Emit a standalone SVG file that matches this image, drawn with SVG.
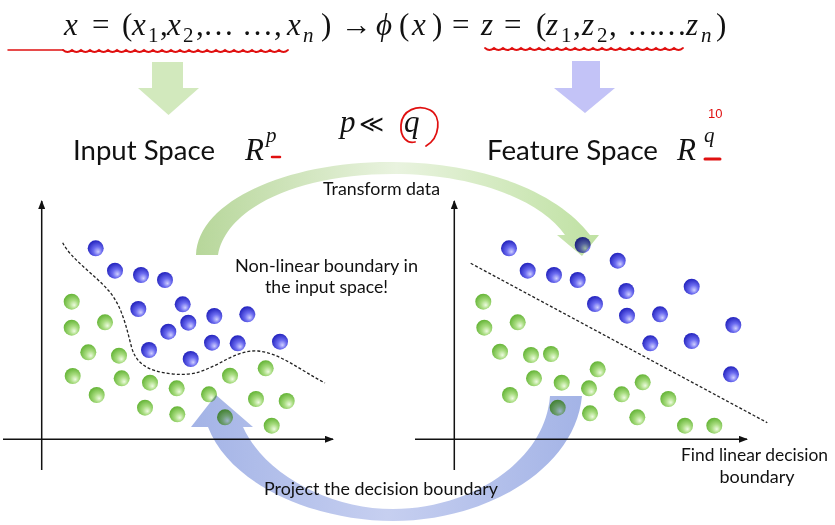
<svg xmlns="http://www.w3.org/2000/svg" width="835" height="525" viewBox="0 0 835 525">
<defs>
<style>
.m{font-family:"Liberation Serif","DejaVu Serif",serif;font-size:31px;fill:#111}
.mi{font-family:"Liberation Serif","DejaVu Serif",serif;font-size:31px;font-style:italic;fill:#111}
.sb{font-family:"Liberation Serif","DejaVu Serif",serif;font-size:21px;fill:#111}
.sbi{font-family:"Liberation Serif","DejaVu Serif",serif;font-size:21px;font-style:italic;fill:#111}
.h{font-family:Lato,"Open Sans",sans-serif;font-size:27px;fill:#111}
.t{font-family:Lato,"Open Sans",sans-serif;font-size:18px;fill:#111}
.ax{stroke:#111;stroke-width:1.5;fill:none}
.dash{stroke:#222;stroke-width:1.3;fill:none;stroke-dasharray:3 2}
.red{stroke:#e01010;fill:none;stroke-linecap:round}
.b{fill:url(#gb)}
.g{fill:url(#gg)}
.mul{mix-blend-mode:multiply}
</style>
<radialGradient id="gb" cx="0.58" cy="0.62" r="0.6" fx="0.66" fy="0.72">
<stop offset="0" stop-color="#d0d0ff"/>
<stop offset="0.45" stop-color="#6c6cf0"/>
<stop offset="1" stop-color="#2626c0"/>
</radialGradient>
<radialGradient id="gg" cx="0.58" cy="0.62" r="0.6" fx="0.66" fy="0.72">
<stop offset="0" stop-color="#eefbe0"/>
<stop offset="0.45" stop-color="#a8dc80"/>
<stop offset="1" stop-color="#68b63a"/>
</radialGradient>
<linearGradient id="gArc" x1="193" y1="0" x2="600" y2="0" gradientUnits="userSpaceOnUse">
<stop offset="0" stop-color="#b6d699"/>
<stop offset="0.5" stop-color="#e9f3df"/>
<stop offset="1" stop-color="#bfe1a2"/>
</linearGradient>
<linearGradient id="bArc" x1="190" y1="0" x2="585" y2="0" gradientUnits="userSpaceOnUse">
<stop offset="0" stop-color="#a3b3e6"/>
<stop offset="0.5" stop-color="#c6cff0"/>
<stop offset="1" stop-color="#a3b3e6"/>
</linearGradient>
<marker id="ah" markerWidth="9" markerHeight="7" refX="8" refY="3.5" orient="auto" markerUnits="userSpaceOnUse">
<path d="M0,0 L9,3.5 L0,7 Z" fill="#111"/>
</marker>
</defs>
<rect width="835" height="525" fill="#fff"/>

<g id="formula">
<text class="mi" x="64" y="35">x</text>
<text class="m" x="92" y="35">=</text>
<text class="m" x="122" y="35">(</text>
<text class="mi" x="132" y="35">x</text><text class="sb" x="148" y="42">1</text>
<text class="m" x="160" y="35">,</text>
<text class="mi" x="167" y="35">x</text><text class="sb" x="183" y="42">2</text>
<text class="m" x="196" y="35">,</text>
<text class="m" x="203" y="35">…</text>
<text class="m" x="242" y="35">…</text>
<text class="m" x="274" y="35">,</text>
<text class="mi" x="287" y="35">x</text><text class="sbi" x="303" y="42">n</text>
<text class="m" x="321" y="35">)</text>
<text class="m" x="341" y="35">→</text>
<text class="mi" x="376" y="35">ϕ</text>
<text class="m" x="399" y="35">(</text>
<text class="mi" x="412" y="35">x</text>
<text class="m" x="432" y="35">)</text>
<text class="m" x="452" y="35">=</text>
<text class="mi" x="481" y="35">z</text>
<text class="m" x="504" y="35">=</text>
<text class="m" x="536" y="35">(</text>
<text class="mi" x="546" y="35">z</text><text class="sb" x="561" y="42">1</text>
<text class="m" x="573" y="35">,</text>
<text class="mi" x="582" y="35">z</text><text class="sb" x="597" y="42">2</text>
<text class="m" x="609" y="35">,</text>
<text class="m" x="627" y="35">…</text>
<text class="m" x="656" y="35">…</text>
<text class="mi" x="686" y="35">z</text><text class="sbi" x="701" y="42">n</text>
<text class="m" x="716" y="35">)</text>
<path class="red" stroke-width="1.5" d="M8,50 L63,50"/>
<path class="red" stroke-width="1.8" d="M63,50 q4.5,4 9,0 q4.5,4 9,0 q4.5,4 9,0 q4.5,4 9,0 q4.5,4 9,0 q4.5,4 9,0 q4.5,4 9,0 q4.5,4 9,0 q4.5,4 9,0 q4.5,4 9,0 q4.5,4 9,0 q4.5,4 9,0 q4.5,4 9,0 q4.5,4 9,0 q4.5,4 9,0 q4.5,4 9,0 q4.5,4 9,0 q4.5,4 9,0 q4.5,4 9,0 q4.5,4 9,0 q4.5,4 9,0 q4.5,4 9,0 q4.5,4 9,0 q4.5,4 9,0 q4.5,4 9,0"/>
<path class="red" stroke-width="1.8" d="M485,48 q4.5,4 9,0 q4.5,4 9,0 q4.5,4 9,0 q4.5,4 9,0 q4.5,4 9,0 q4.5,4 9,0 q4.5,4 9,0 q4.5,4 9,0 q4.5,4 9,0 q4.5,4 9,0 q4.5,4 9,0 q4.5,4 9,0 q4.5,4 9,0 q4.5,4 9,0 q4.5,4 9,0 q4.5,4 9,0 q4.5,4 9,0 q4.5,4 9,0 q4.5,4 9,0 q4.5,4 9,0 q4.5,4 9,0 q4.5,4 9,0"/>
</g>

<g id="down-arrows">
<polygon points="152,62 183,62 183,88 199,88 168.5,115 138,88 152,88" fill="#d2e9bd"/>
<polygon points="572,61 600,61 600,88 615,88 585,113 554,88 572,88" fill="#c3c3f7"/>
</g>

<g id="input-space">
<text class="h" x="73" y="160" textLength="142" lengthAdjust="spacingAndGlyphs">Input Space</text>
<text class="mi" x="245" y="160">R</text>
<text class="sbi" x="266" y="142" font-size="22">p</text>
<path class="red" stroke-width="2.5" d="M272,157 L280,157"/>
</g>

<g id="pq">
<text class="mi" x="340" y="132" font-size="27">p</text>
<text x="359" y="132" font-family="DejaVu Serif,serif" font-size="24" fill="#111">≪</text>
<text class="mi" x="404" y="132" font-size="27">q</text>
<path class="red" stroke-width="1.8" d="M426,146 C440,138 442,116 430,110 C418,104 402,110 401,125 C400,138 408,144 415,142"/>
</g>

<g id="feature-space">
<text class="h" x="487" y="160" textLength="171" lengthAdjust="spacingAndGlyphs">Feature Space</text>
<text class="mi" x="677" y="160">R</text>
<text class="sbi" x="704" y="142" font-size="22">q</text>
<path class="red" stroke-width="3" d="M705,159 L720,159"/>
<text x="708" y="118" font-family="Liberation Sans,sans-serif" font-size="13" fill="#e01010">10</text>
</g>

<g id="input-plot">
<line class="ax" x1="41.7" y1="470" x2="41.7" y2="201" marker-end="url(#ah)"/>
<line class="ax" x1="3" y1="439.3" x2="333" y2="439.3" marker-end="url(#ah)"/>
<path class="dash" d="M62.7,242.7 C70,258 95,275 108,290 C122,305 127,330 131,345 C135,362 145,371 173,374 C195,376 205,370 218,364 C232,356 245,350 258,351 C280,353 300,370 325,383"/>
<g class="b">
<circle cx="95.7" cy="248.3" r="8"/><circle cx="115" cy="270.7" r="8"/><circle cx="141" cy="275" r="8"/><circle cx="165" cy="280" r="8"/>
<circle cx="138.3" cy="309" r="8"/><circle cx="182.7" cy="304.3" r="8"/><circle cx="188.3" cy="322.7" r="8"/><circle cx="168.3" cy="331.7" r="8"/>
<circle cx="214.3" cy="316" r="8"/><circle cx="247.3" cy="314.3" r="8"/><circle cx="149" cy="350" r="8"/><circle cx="190.7" cy="359" r="8"/>
<circle cx="212" cy="342.7" r="8"/><circle cx="237.7" cy="343.3" r="8"/><circle cx="280" cy="341.7" r="8"/>
</g>
<g class="g">
<circle cx="71.7" cy="301.7" r="8"/><circle cx="71.7" cy="327.7" r="8"/><circle cx="105" cy="322.3" r="8"/><circle cx="88.3" cy="352.3" r="8"/>
<circle cx="119" cy="355.7" r="8"/><circle cx="72.7" cy="376" r="8"/><circle cx="121.7" cy="378.3" r="8"/><circle cx="150" cy="382.7" r="8"/>
<circle cx="176.7" cy="388.3" r="8"/><circle cx="96.7" cy="395" r="8"/><circle cx="145" cy="407.7" r="8"/><circle cx="177.3" cy="414.3" r="8"/>
<circle cx="209" cy="394.3" r="8"/><circle cx="230" cy="375.7" r="8"/><circle cx="265.7" cy="368.3" r="8"/><circle cx="256" cy="399" r="8"/>
<circle cx="286.7" cy="401" r="8"/><circle cx="271.7" cy="425.7" r="8"/><circle cx="225" cy="417.3" r="8"/>
</g>
<text class="t" x="235" y="272" textLength="183" lengthAdjust="spacingAndGlyphs">Non-linear boundary in</text>
<text class="t" x="265" y="293" textLength="123" lengthAdjust="spacingAndGlyphs">the input space!</text>
</g>

<g id="feature-plot">
<line class="ax" x1="454.3" y1="470" x2="454.3" y2="201" marker-end="url(#ah)"/>
<line class="ax" x1="415" y1="439.3" x2="747" y2="439.3" marker-end="url(#ah)"/>
<line class="dash" x1="470.7" y1="263.3" x2="767.3" y2="422.7"/>
<g class="b">
<circle cx="509" cy="248.3" r="8"/><circle cx="527.7" cy="270.7" r="8"/><circle cx="554" cy="275" r="8"/><circle cx="577.7" cy="280" r="8"/>
<circle cx="617.7" cy="260.7" r="8"/><circle cx="626.3" cy="291" r="8"/><circle cx="595" cy="304" r="8"/><circle cx="627" cy="315.7" r="8"/>
<circle cx="660" cy="314.3" r="8"/><circle cx="691.7" cy="286.7" r="8"/><circle cx="733.3" cy="325" r="8"/><circle cx="650.3" cy="343.3" r="8"/>
<circle cx="691.7" cy="341" r="8"/><circle cx="731" cy="374.3" r="8"/><circle cx="582.7" cy="245" r="8"/>
</g>
<g class="g">
<circle cx="483.3" cy="301.7" r="8"/><circle cx="484.3" cy="327.7" r="8"/><circle cx="517.7" cy="322.3" r="8"/><circle cx="500" cy="351.7" r="8"/>
<circle cx="531" cy="355" r="8"/><circle cx="551" cy="354" r="8"/><circle cx="534" cy="378.3" r="8"/><circle cx="561.7" cy="382.7" r="8"/>
<circle cx="597.7" cy="369.3" r="8"/><circle cx="589" cy="388.3" r="8"/><circle cx="621.7" cy="394.3" r="8"/><circle cx="642.7" cy="382.3" r="8"/>
<circle cx="510" cy="395" r="8"/><circle cx="590" cy="413.3" r="8"/><circle cx="637.3" cy="417.3" r="8"/><circle cx="668.3" cy="399" r="8"/>
<circle cx="685" cy="425.7" r="8"/><circle cx="714.3" cy="425.7" r="8"/><circle cx="557.7" cy="407.7" r="8"/>
</g>
<text class="t" x="681" y="461" textLength="147" lengthAdjust="spacingAndGlyphs">Find linear decision</text>
<text class="t" x="757" y="483" text-anchor="middle">boundary</text>
</g>

<g id="connectors">
<path class="mul" fill="url(#gArc)" d="M196,255 C198,200 290,161 393,162 C490,163 560,195 590,235 L599,235 L582,256 L557,235 L565,235 C540,200 475,174 393,174 C300,174 226,207 218,255 Z"/>
<text class="t" x="323" y="195" textLength="117" lengthAdjust="spacingAndGlyphs">Transform data</text>
<path class="mul" fill="url(#bArc)" d="M191,427 L216,395 L253,427 L243,427 C265,475 330,509 393,509 C470,509 545,462 550,396 L582,396 C575,470 485,521 393,521 C315,521 230,485 208,427 Z"/>
<text class="t" x="264" y="495" textLength="234" lengthAdjust="spacingAndGlyphs">Project the decision boundary</text>
</g>
</svg>
